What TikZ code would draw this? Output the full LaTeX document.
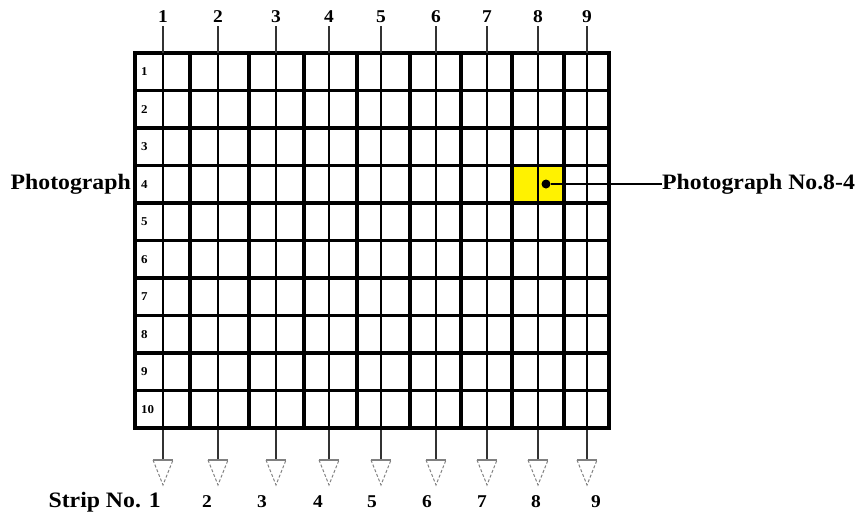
\documentclass[tikz,border=0pt]{standalone}
\usepackage{fontspec}
\setmainfont{Liberation Serif}[FakeStretch=1.08]

\begin{document}
\begin{tikzpicture}[
	x=1pt, y=-1pt,
	gridthick/.style={ line width=3.5pt },
	gridthin/.style={ line width=1.2pt },
	stripline/.style={ black!80, line width=1.2pt },
	markerside/.style={ black!50, line width=1pt, dash pattern=on 3pt off 2pt },
	markertop/.style={ black!50, line width=2pt },
	numlbl/.style={ font=\bfseries\fontsize{18pt}{18pt}\selectfont, inner sep=0pt },
	rowlbl/.style={ font=\bfseries\fontsize{12pt}{12pt}\selectfont, inner sep=0pt, anchor=west },
	biglbl/.style={ font=\bfseries\fontsize{22pt}{22pt}\selectfont, inner sep=0pt },
	dot/.style={ circle, fill, inner sep=0pt, minimum size=9pt }
]
\useasboundingbox (0,0) rectangle (867,515);

% selected photograph
\fill[yellow] (512,167) rectangle (564,203);

% grid
\foreach \x in {163,218,276,329,381,436,487,538,587} \draw[gridthin] (\x,53) -- (\x,428);
\foreach \x in {190,249,304,357,410,461,512,564} \draw[gridthick] (\x,53) -- (\x,428);
\foreach \r in {1,...,9} \draw[gridthick] (135,{53+37.5*\r}) -- (609,{53+37.5*\r});
\draw[gridthick] (135,53) rectangle (609,428);

\foreach \r in {1,...,10} \node[rowlbl] (row\r) at (141,{34.25+37.5*\r}) {\r};

% strips
\foreach \x [count=\i] in {163,218,276,329,381,436,487,538,587} {
	\node[numlbl] (top\i) at (\x,17) {\i};
	\coordinate (gt\i) at (\x,53);
	\coordinate (gb\i) at (\x,430);
	\coordinate (tri\i) at (\x,460);
	\draw[stripline, shorten <=3pt] (top\i.south) -- (gt\i);
	\draw[stripline] (gb\i) -- (tri\i);
	\draw[markerside] (tri\i) ++(-10,0) -- ++(10,25) -- ++(10,-25);
	\draw[markertop] (tri\i) ++(-10,0) -- ++(20,0);
}

\node[biglbl, anchor=east] (strip1) at (161,502) {Strip No. 1};
\foreach \x [count=\i from 2] in {207,262,318,372,427,482,536,596} \node[numlbl] (strip\i) at (\x,502) {\i};

% photograph labels
\node[biglbl, anchor=east] (photo) at (131,184) {Photograph};
\node[dot] (ph84) at (546,184) {};
\node[biglbl, anchor=west] (ph84lbl) at (662,184) {Photograph No.8-4};
\draw[line width=2pt] (ph84) -- (ph84lbl);

\end{tikzpicture}
\end{document}
